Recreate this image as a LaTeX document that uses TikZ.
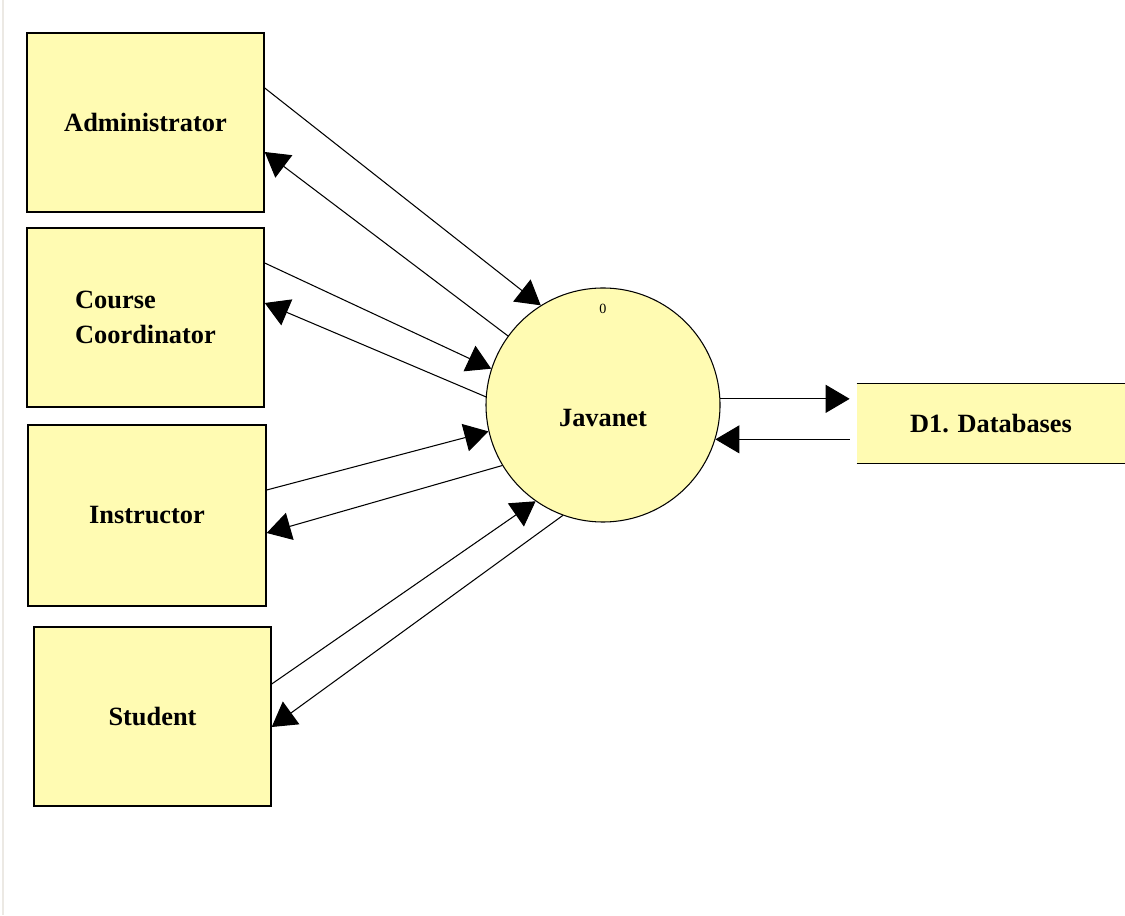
\documentclass[tikz,border=0pt]{standalone}
\usepackage{fontspec}
\setmainfont{Liberation Serif}
\usetikzlibrary{arrows.meta, calc, positioning}
\definecolor{entityyellow}{RGB}{255,251,178}
\definecolor{framegray}{RGB}{236,233,228}

\begin{document}
\begin{tikzpicture}[
    entity/.style={draw, line width=0.8pt, fill=entityyellow, minimum width=4.74cm, minimum height=3.58cm, font=\fontsize{15}{20}\selectfont\bfseries},
    process/.style={draw, circle, line width=0.6pt, fill=entityyellow, minimum size=4.68cm, inner sep=0pt},
    store/.style={fill=entityyellow, minimum width=5.36cm, minimum height=1.58cm, inner sep=0pt},
    txt/.style={font=\fontsize{15}{18}\selectfont\bfseries},
    flow/.style={line width=0.6pt, -{Triangle[length=0.48cm, width=0.56cm]}}
]
    % Canvas
    \fill[white] (0,0) rectangle (22.5,18.3);
    \useasboundingbox (0,0) rectangle (22.5,18.3);
    \draw[framegray, line width=0.8pt] (0.06,0) -- (0.06,18.3);

    % External entities
    \node[entity] (admin) at (2.91,15.85) {Administrator};
    \node[entity, align=left] (coord) at (2.91,11.95) {Course\\Coordinator};
    \node[entity, minimum width=4.76cm, minimum height=3.62cm] (instr) at (2.94,7.99) {Instructor};
    \node[entity] (student) at (3.05,3.97) {Student};

    % Process
    \node[process] (jv) at (12.06,10.2) {};
    \node[txt] (jvname) at (12.06,9.94) {Javanet};
    \node[font=\fontsize{8}{10}\selectfont] (jvnum) at (12.06,12.12) {0};

    % Data store
    \node[store, txt] (db) at (19.82,9.83) {D1. Databases};
    \draw[line width=0.8pt] (db.north west) -- (db.north east);
    \draw[line width=0.8pt] (db.south west) -- (db.south east);

    % Data flows
    \draw[flow] ([yshift=0.69cm]admin.east) -- (jv.122.7);
    \draw[flow] (jv.144.5) -- ([yshift=-0.59cm]admin.east);
    \draw[flow] ([yshift=1.09cm]coord.east) -- (jv.162.8);
    \draw[flow] (jv.176) -- ([yshift=0.29cm]coord.east);
    \draw[flow] ([yshift=0.51cm]instr.east) -- (jv.193.6);
    \draw[flow] (jv.211.8) -- ([yshift=-0.35cm]instr.east);
    \draw[flow] ([yshift=0.65cm]student.east) -- (jv.235.2);
    \draw[flow] (jv.250.9) -- ([yshift=-0.21cm]student.east);
    \draw[flow] (jv.3.9) -- ([xshift=-0.14cm]db.west |- jv.3.9);
    \draw[flow] ([xshift=-0.14cm]db.west |- jv.343.4) -- (jv.343.4);
\end{tikzpicture}
\end{document}
